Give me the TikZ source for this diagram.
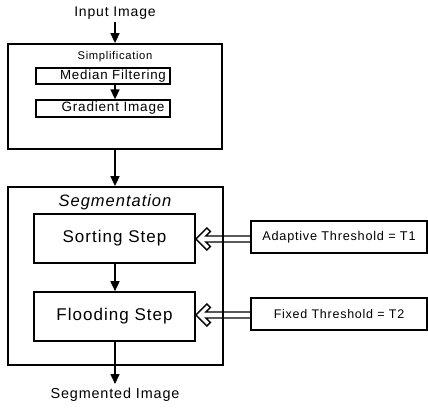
\documentclass[tikz,border=0pt]{standalone}
\usepackage{fontspec}
\setmainfont{Liberation Sans}[LetterSpace=6]
\usetikzlibrary{arrows.meta,calc}
\newcommand{\fs}[1]{\fontsize{#1}{#1}\selectfont}
\begin{document}
\begin{tikzpicture}[x=1pt,y=-1pt,
  innerbox/.style={draw, line width=1.3pt, inner sep=0pt},
  stepbox/.style={draw, line width=1.6pt, minimum width=161pt, minimum height=49pt, inner sep=0pt},
  txt/.style={inner sep=0pt},
  arr/.style={line width=1.6pt, -{Triangle[length=10pt,width=9pt]}},
  hollowline/.style={line width=1.4pt, line join=miter}
]
\useasboundingbox (0,0) rectangle (428,407);

% top input
\node[txt] (inp) at (115,13) {\fs{14}Input Image};

% simplification box
\node[draw, line width=1.8pt, minimum width=214pt, minimum height=105pt, inner sep=0pt] (simp) at (115,96.5) {};
\node[txt] (simptitle) at (115,57) {\fs{11.2}Simplification};
\node[innerbox, minimum width=134pt, minimum height=16pt] (median) at (103,76) {\fs{13.3}\hspace*{20pt}Median Filtering};
\node[innerbox, minimum width=134pt, minimum height=17pt] (gradient) at (103,108.5) {\fs{13.5}\hspace*{20pt}Gradient Image};

% segmentation box contents
\node[txt] (segtitle) at (115,202) {\fs{16.5}\itshape Segmentation};
\node[stepbox] (sorting) at (114.5,238.5) {\fs{17}Sorting Step};
\node[stepbox] (flooding) at (114.5,316.5) {\fs{17}Flooding Step};

% thresholds
\node[innerbox, minimum width=176pt, minimum height=32pt] (adaptive) at (339,237) {\fs{12.7}Adaptive Threshold = T1};
\node[innerbox, minimum width=176pt, minimum height=32pt] (fixed) at (339,314) {\fs{12.5}Fixed Threshold = T2};

% hollow arrows
\coordinate (tipA) at ($(adaptive.west -| sorting.east)+(0,2)$);
\coordinate (baseA) at ($(adaptive.west)+(0,2)$);
\draw[hollowline] ($(baseA)+(0,-3)$) -- ($(tipA)+(10,-3)$) -- ($(tipA)+(14.5,-7.5)$) -- ($(tipA)+(11,-11)$) -- (tipA)
  -- ($(tipA)+(11,11)$) -- ($(tipA)+(14.5,7.5)$) -- ($(tipA)+(10,3)$) -- ($(baseA)+(0,3)$);
\coordinate (tipF) at ($(fixed.west -| flooding.east)+(0,1)$);
\coordinate (baseF) at ($(fixed.west)+(0,1)$);
\draw[hollowline] ($(baseF)+(0,-3)$) -- ($(tipF)+(10,-3)$) -- ($(tipF)+(14.5,-7.5)$) -- ($(tipF)+(11,-11)$) -- (tipF)
  -- ($(tipF)+(11,11)$) -- ($(tipF)+(14.5,7.5)$) -- ($(tipF)+(10,3)$) -- ($(baseF)+(0,3)$);

% segmentation box
\node[draw, line width=1.8pt, minimum width=215pt, minimum height=178pt, inner sep=0pt] (seg) at (115.5,276) {};

% output
\node[txt] (out) at (115,395) {\fs{14.4}Segmented Image};

% arrows
\coordinate (inptop) at (115,22);
\draw[arr] (inptop) -- (inptop |- simp.north);
\draw[arr] (median.south -| simp.center) -- (gradient.north -| simp.center);
\draw[arr] (simp.south) -- (simp.south |- seg.north);
\draw[arr] (sorting.south -| simp.center) -- (flooding.north -| simp.center);
\coordinate (outtop) at (115,384);
\draw[arr] (flooding.south -| simp.center) -- (outtop);
\end{tikzpicture}
\end{document}
